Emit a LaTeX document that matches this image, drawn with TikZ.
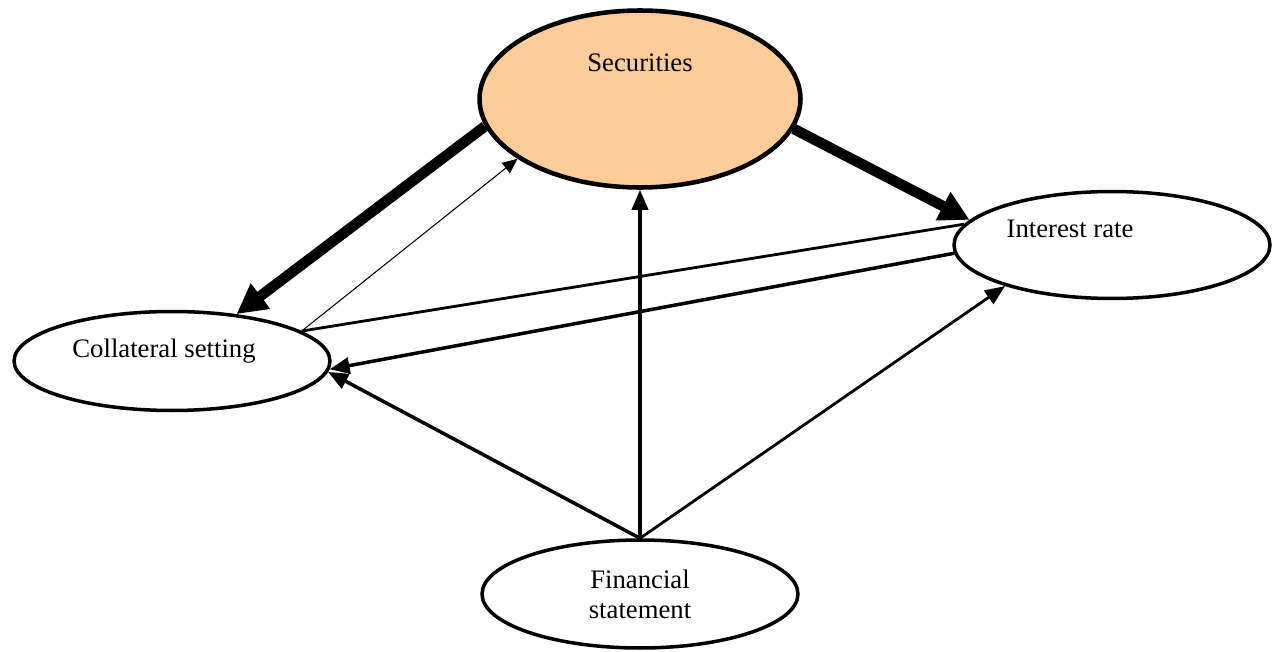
\documentclass[tikz,border=0pt]{standalone}
\usepackage{fontspec}
\setmainfont{Liberation Serif}
\usetikzlibrary{shapes.geometric,arrows.meta}
\definecolor{peach}{RGB}{252,204,153}

\begin{document}
\begin{tikzpicture}[
        x=0.02cm, y=-0.02cm,
        font=\fontsize{15.2}{17}\selectfont,
        bubble/.style={ellipse, draw, line width=2pt, inner sep=0pt, minimum width=6.32cm, minimum height=2.1cm},
        heavy/.style={line width=6pt, -{Triangle[length=0.6cm, width=0.6cm]}},
        medium/.style={line width=2pt, -{Triangle[length=0.4cm, width=0.32cm]}},
        fine/.style={line width=0.6pt, -{Triangle[length=0.3cm, width=0.26cm]}},
        link/.style={line width=1.6pt},
    ]
    \useasboundingbox (0,0) rectangle (1278,652);
    \node[bubble, fill=peach, line width=2.6pt, minimum width=6.42cm, minimum height=3.54cm,
        label={[yshift=0.72cm]center:Securities}] (sec) at (640,99) {};
    \node[bubble, minimum height=1.98cm,
        label={[xshift=-0.16cm, yshift=0.2cm]center:Collateral setting}] (coll) at (172,361) {};
    \node[bubble, minimum height=2.14cm,
        label={[xshift=-0.84cm, yshift=0.32cm]center:Interest rate}] (rate) at (1112,245) {};
    \node[bubble, minimum height=2.16cm, align=center] (fin) at (640,594) {Financial\\statement};

    \draw[heavy] (sec.190) -- (coll.36);
    \draw[fine] (coll.13) -- (sec.206);
    \draw[heavy] (sec.349.6) -- (rate.170.5);
    \draw[link] (coll.13) -- (rate.172.7);
    \draw[medium] (rate.183.7) -- (coll.357);
    \draw[medium] (fin.north) -- (coll.356);
    \draw[medium] (fin.north) -- (sec.south);
    \draw[medium, line width=1.6pt] (fin.north) -- (rate.201);
\end{tikzpicture}
\end{document}
